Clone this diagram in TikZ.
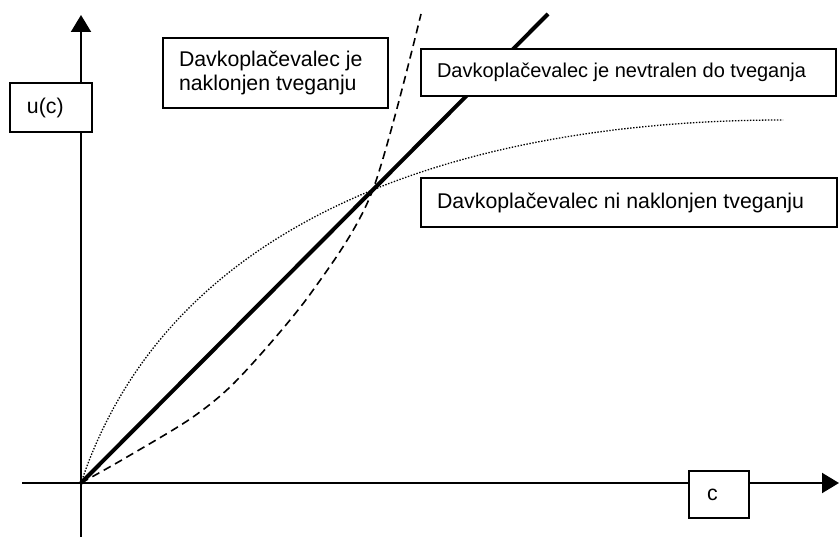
\documentclass[tikz,border=0pt]{standalone}
\usepackage{fontspec}
\setmainfont{Liberation Sans}
\usepackage{tikz}
\usetikzlibrary{arrows.meta}

\begin{document}
\begin{tikzpicture}[x=1pt,y=-1pt,
    every node/.style={draw=black,fill=white,line width=1.5pt,shape=rectangle,align=flush left,
        font=\fontsize{21.3}{23.5}\selectfont,inner ysep=0pt},
    axis/.style={line width=2pt,-{Triangle[length=17pt,width=20pt]}},
    neutral/.style={line width=4pt},
    lover/.style={line width=1.6pt,dash pattern=on 8pt off 5pt},
    averse/.style={line width=1.3pt,dash pattern=on 1.4pt off 1.6pt}]
    \useasboundingbox (0,0) rectangle (839,537);

    \coordinate (origin) at (81, 483);
    \coordinate (ybottom) at (81, 537);
    \coordinate (ytop) at (81, 15);
    \coordinate (xleft) at (22, 483);
    \coordinate (xright) at (839, 483);
    \coordinate (neutralend) at (548, 14);
    \coordinate (averseend) at (783, 120);

    \path [axis] (ybottom) edge (ytop);
    \path [axis] (xleft) edge (xright);
    \path [neutral] (origin) edge (neutralend);
    \draw [lover] plot [smooth] coordinates {(81,483) (127,457) (193,417) (240,377) (311,293) (372,192) (421,14)};
    \draw [averse] (origin) .. controls (181,183) and (531,120) .. (averseend);

    \node (lover) [inner xsep=16pt,text width=193pt,minimum height=70pt] at (275.5, 73) {Davkoplačevalec je\\naklonjen tveganju};
    \node (neutral) [inner xsep=16pt,text width=383pt,minimum height=47pt,font=\fontsize{20}{23.5}\selectfont] at (628.5, 72.5) {Davkoplačevalec je nevtralen do tveganja};
    \node (averse) [inner xsep=16pt,text width=384pt,minimum height=49pt] at (629, 202.5) {Davkoplačevalec ni naklonjen tveganju};
    \node (utility) [inner xsep=17pt,text width=48pt,minimum height=49pt] at (51, 107.5) {u(c)};
    \node (consumption) [inner xsep=18pt,text width=24pt,minimum height=47pt] at (719, 494.5) {c};
\end{tikzpicture}
\end{document}
